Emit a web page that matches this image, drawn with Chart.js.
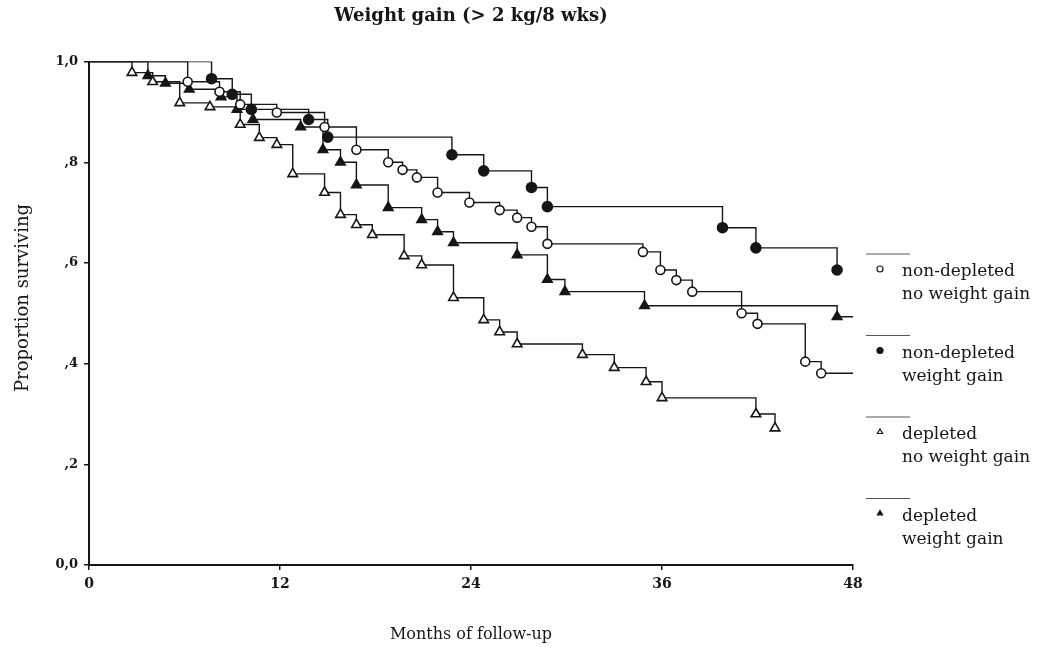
<!DOCTYPE html>
<html>
<head>
<meta charset="utf-8">
<script src="https://cdn.jsdelivr.net/npm/chart.js@4.4.1/dist/chart.umd.min.js"></script>
<style>
  html, body { margin: 0; padding: 0; background: #fff; }
  #wrap { width: 1051px; height: 650px; }
</style>
</head>
<body>
<div id="wrap"><canvas id="kmChart" width="1051" height="650"></canvas></div>
<script>
// Kaplan-Meier curves (months, proportion surviving)
const ndNoGainMonths = [0, 6.2, 8.2, 9.5, 11.8, 14.8, 16.8, 18.8, 19.7, 20.6, 21.9, 23.9, 25.8, 26.9, 27.8, 28.8, 34.8, 35.9, 36.9, 37.9, 41.0, 42.0, 45.0, 46.0, 48];
const ndNoGainSurv   = [1, 0.96, 0.94, 0.915, 0.899, 0.87, 0.825, 0.80, 0.785, 0.77, 0.74, 0.72, 0.705, 0.69, 0.672, 0.638, 0.622, 0.586, 0.566, 0.543, 0.50, 0.479, 0.404, 0.381, 0.381];

const ndGainMonths = [0, 7.7, 9.0, 10.2, 13.8, 15.0, 22.8, 24.8, 27.8, 28.8, 39.8, 41.9, 47.0];
const ndGainSurv   = [1, 0.966, 0.935, 0.905, 0.885, 0.85, 0.815, 0.783, 0.75, 0.712, 0.67, 0.63, 0.586];

const dNoGainMonths = [0, 2.7, 4.0, 5.7, 7.6, 9.5, 10.7, 11.8, 12.8, 14.8, 15.8, 16.8, 17.8, 19.8, 20.9, 22.9, 24.8, 25.8, 26.9, 31.0, 33.0, 35.0, 36.0, 41.9, 43.1];
const dNoGainSurv   = [1, 0.978, 0.96, 0.918, 0.91, 0.875, 0.849, 0.835, 0.777, 0.74, 0.696, 0.676, 0.656, 0.614, 0.596, 0.531, 0.487, 0.463, 0.439, 0.418, 0.392, 0.364, 0.332, 0.30, 0.272];

const dGainMonths = [0, 3.7, 4.8, 6.3, 8.3, 9.3, 10.3, 13.3, 14.7, 15.8, 16.8, 18.8, 20.9, 21.9, 22.9, 26.9, 28.8, 29.9, 34.9, 47.0, 48];
const dGainSurv   = [1, 0.972, 0.957, 0.945, 0.93, 0.905, 0.885, 0.87, 0.825, 0.80, 0.755, 0.71, 0.686, 0.662, 0.64, 0.616, 0.567, 0.543, 0.515, 0.493, 0.493];

// does the line run on past the last marker to 48 months?
const seriesTail = [true, false, false, true];

const seriesNames = [
    ['non-depleted', 'no weight gain'],
    ['non-depleted', 'weight gain'],
    ['depleted', 'no weight gain'],
    ['depleted', 'weight gain']
];
const xTicks = [0, 12, 24, 36, 48];
const yTicks = [0, 0.2, 0.4, 0.6, 0.8, 1.0];

const INK = '#161616';
const SERIF = '"DejaVu Serif", serif';
const markerStyles = [
    { pointStyle: 'circle', fill: '#fff', radius: 4.5 },
    { pointStyle: 'circle', fill: INK, radius: 5 },
    { pointStyle: 'triangle', fill: '#fff', radius: 5.5 },
    { pointStyle: 'triangle', fill: INK, radius: 5.5 }
];

function toPoints(months, surv) {
    return months.map((m, i) => ({ x: m, y: surv[i] }));
}

function makeDataset(idx, months, surv) {
    const st = markerStyles[idx];
    const last = months.length - 1;
    return {
        label: seriesNames[idx].join(' '),
        data: toPoints(months, surv),
        stepped: 'before',
        borderColor: INK,
        borderWidth: 1.4,
        fill: false,
        pointStyle: st.pointStyle,
        pointBackgroundColor: st.fill,
        pointBorderColor: INK,
        pointBorderWidth: 1.6,
        pointRadius: ctx => (ctx.dataIndex === 0 || (seriesTail[idx] && ctx.dataIndex === last)) ? 0 : st.radius
    };
}

// legend at the right and the y title (sits a bit above centre in the original)
const sideLegend = {
    id: 'sideLegend',
    afterDraw(chart) {
        const ctx = chart.ctx;
        const top = 254, step = 81.5;
        ctx.save();
        seriesNames.forEach((names, i) => {
            const y0 = top + i * step;
            ctx.strokeStyle = '#555';
            ctx.lineWidth = 1.2;
            ctx.beginPath();
            ctx.moveTo(866, y0);
            ctx.lineTo(910, y0);
            ctx.stroke();

            const st = markerStyles[i];
            ctx.fillStyle = st.fill;
            ctx.strokeStyle = INK;
            ctx.lineWidth = 1.2;
            Chart.helpers.drawPoint(ctx, { pointStyle: st.pointStyle, radius: 3, borderWidth: 1.2, rotation: 0 }, 880, y0 + 15);

            ctx.fillStyle = INK;
            ctx.font = '17px ' + SERIF;
            ctx.textBaseline = 'middle';
            ctx.textAlign = 'left';
            ctx.fillText(names[0], 902, y0 + 18);
            ctx.fillText(names[1], 902, y0 + 41);
        });

        ctx.translate(23, 298);
        ctx.rotate(-Math.PI / 2);
        ctx.fillStyle = INK;
        ctx.font = '18px ' + SERIF;
        ctx.textAlign = 'center';
        ctx.textBaseline = 'middle';
        ctx.fillText('Proportion surviving', 0, 0);
        ctx.restore();
    }
};

const ctx = document.getElementById('kmChart').getContext('2d');
new Chart(ctx, {
    type: 'line',
    data: {
        datasets: [
            makeDataset(0, ndNoGainMonths, ndNoGainSurv),
            makeDataset(1, ndGainMonths, ndGainSurv),
            makeDataset(2, dNoGainMonths, dNoGainSurv),
            makeDataset(3, dGainMonths, dGainSurv)
        ]
    },
    options: {
        responsive: false,
        animation: false,
        layout: { padding: { top: 0, right: 198, left: 0, bottom: 0 } },
        plugins: {
            legend: { display: false },
            tooltip: { enabled: false },
            title: {
                display: true,
                text: 'Weight gain (> 2 kg/8 wks)',
                fullSize: false,
                color: INK,
                font: { family: SERIF, size: 18, weight: 'bold' },
                padding: { top: 6, bottom: 34 }
            }
        },
        scales: {
            x: {
                type: 'linear',
                min: 0,
                max: 48,
                afterFit: s => { s.height = 85; },
                afterBuildTicks: s => { s.ticks = xTicks.map(v => ({ value: v })); },
                grid: { display: true, drawOnChartArea: false, drawTicks: true, tickLength: 5, color: INK, lineWidth: 1.5 },
                border: { display: true, color: INK, width: 2 },
                ticks: {
                    color: INK,
                    padding: 6,
                    maxRotation: 0,
                    font: { family: SERIF, size: 14, weight: 'bold' }
                },
                title: {
                    display: true,
                    text: 'Months of follow-up',
                    color: INK,
                    font: { family: SERIF, size: 16 },
                    padding: { top: 0, bottom: 6 }
                }
            },
            y: {
                type: 'linear',
                min: 0,
                max: 1,
                afterFit: s => { s.width = 89; },
                afterBuildTicks: s => { s.ticks = yTicks.map(v => ({ value: v })); },
                grid: { display: true, drawOnChartArea: false, drawTicks: true, tickLength: 5, color: INK, lineWidth: 1.5 },
                border: { display: true, color: INK, width: 2 },
                ticks: {
                    color: INK,
                    padding: 6,
                    font: { family: SERIF, size: 13, weight: 'bold' },
                    callback: v => v.toFixed(1).replace('.', ',').replace(/^0,(?!0)/, ',')
                }
            }
        }
    },
    plugins: [sideLegend]
});
</script>
</body>
</html>
